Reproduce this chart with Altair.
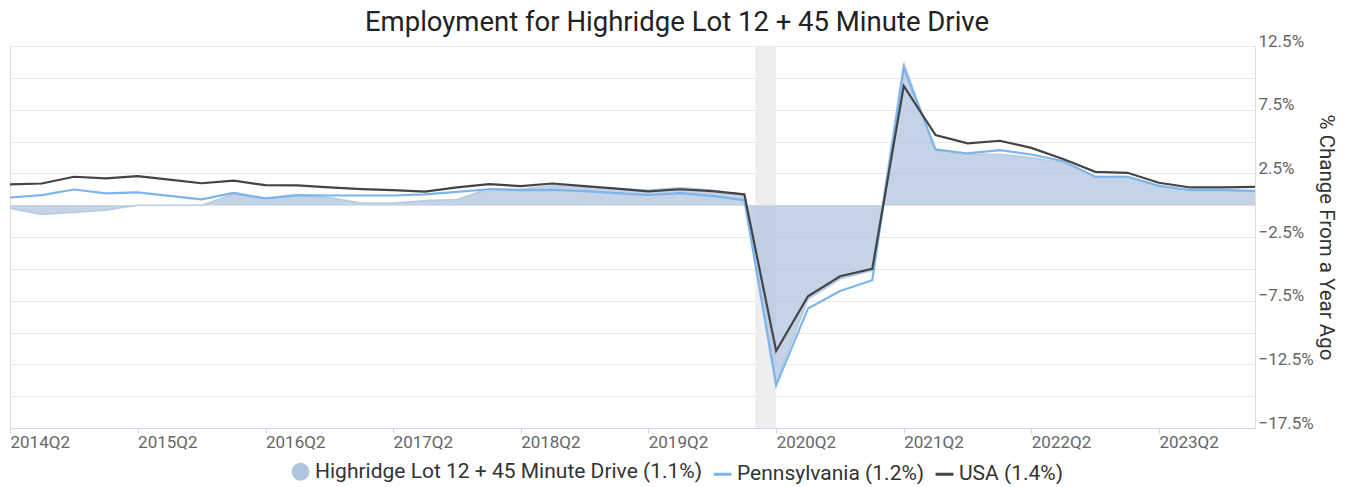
import altair as alt
import pandas as pd

quarters = [
    "2014Q2", "2014Q3", "2014Q4", "2015Q1", "2015Q2", "2015Q3", "2015Q4", "2016Q1",
    "2016Q2", "2016Q3", "2016Q4", "2017Q1", "2017Q2", "2017Q3", "2017Q4", "2018Q1",
    "2018Q2", "2018Q3", "2018Q4", "2019Q1", "2019Q2", "2019Q3", "2019Q4", "2020Q1",
    "2020Q2", "2020Q3", "2020Q4", "2021Q1", "2021Q2", "2021Q3", "2021Q4", "2022Q1",
    "2022Q2", "2022Q3", "2022Q4", "2023Q1", "2023Q2", "2023Q3", "2023Q4", "2024Q1",
]

highridge = [
    -0.26, -0.73, -0.57, -0.39, 0.0, 0.0, 0.0, 0.88, 0.52, 0.75,
    0.60, 0.18, 0.18, 0.36, 0.45, 1.30, 1.26, 1.55, 1.45, 1.30,
    1.20, 1.39, 1.20, 0.75, -13.9, -7.4, -5.8, -5.15, 11.2, 4.30,
    4.00, 4.00, 3.75, 3.33, 2.26, 2.26, 1.57, 1.20, 1.20, 1.10,
]

pennsylvania = [
    0.60, 0.79, 1.23, 0.92, 1.00, 0.73, 0.46, 0.96, 0.53, 0.79,
    0.76, 0.76, 0.76, 0.85, 1.05, 1.25, 1.18, 1.20, 1.10, 0.95,
    0.80, 0.95, 0.73, 0.40, -14.15, -8.12, -6.74, -5.90, 10.8, 4.38,
    4.06, 4.32, 3.98, 3.46, 2.23, 2.23, 1.52, 1.18, 1.18, 1.13,
]

usa = [
    1.63, 1.70, 2.23, 2.10, 2.28, 2.00, 1.72, 1.92, 1.57, 1.55,
    1.39, 1.26, 1.18, 1.06, 1.40, 1.65, 1.50, 1.70, 1.50, 1.30,
    1.08, 1.25, 1.10, 0.85, -11.45, -7.15, -5.58, -5.00, 9.36, 5.50,
    4.85, 5.06, 4.50, 3.62, 2.62, 2.54, 1.76, 1.39, 1.39, 1.44,
]

series_names = [
    "Highridge Lot 12 + 45 Minute Drive (1.1%)",
    "Pennsylvania (1.2%)",
    "USA (1.4%)",
]
fill_colors = ["#b0c4de", "transparent", "transparent"]
stroke_colors = ["transparent", "#7cb5ec", "#434348"]
legend_shapes = ["circle", "stroke", "stroke"]

y_ticks = [-17.5, -15, -12.5, -10, -7.5, -5, -2.5, 0, 2.5, 5, 7.5, 10, 12.5]
x_tick_years = [2014, 2015, 2016, 2017, 2018, 2019, 2020, 2021, 2022, 2023]

recession_start = ["2020-02-01T00:00:00"]
recession_end = ["2020-04-01T00:00:00"]

title_text = "Employment for Highridge Lot 12 + 45 Minute Drive"
y_title = "% Change From a Year Ago"


def qdate(q):
    y = int(q[:4])
    n = int(q[-1])
    return f"{y}-{(n - 1) * 3 + 1:02d}-01T00:00:00"


rows = []
for name, vals in zip(series_names, [highridge, pennsylvania, usa]):
    for q, v in zip(quarters, vals):
        rows.append({"date": qdate(q), "series": name, "value": v})
df = pd.DataFrame(rows)

rec_df = pd.DataFrame({"start": recession_start, "end": recession_end})
title_df = pd.DataFrame({"t": [title_text]})

W, H = 1245, 382

x_scale = alt.Scale(
    domain=[alt.DateTime(year=2014, month=4, date=1), alt.DateTime(year=2024, month=1, date=1)],
    nice=False,
)
y_scale = alt.Scale(domain=[-17.5, 12.5], nice=False, zero=False)

x_axis = alt.Axis(
    values=[alt.DateTime(year=y, month=4, date=1) for y in x_tick_years],
    labelExpr="timeFormat(datum.value, '%Y') + 'Q2'",
    labelAlign="left",
    labelBaseline="top",
    labelPadding=1,
    labelFontSize=17,
    labelColor="#666666",
    labelFont="Roboto",
    tickSize=5,
    tickColor="#ccd6eb",
    domainColor="#ccd6eb",
    grid=False,
    title=None,
    labelOverlap=False,
)

y_axis = alt.Axis(
    orient="right",
    values=y_ticks,
    labelExpr="abs((datum.value - 2.5) % 5) < 0.01 ? format(datum.value, '.1f') + '%' : ''",
    labelBaseline="alphabetic",
    labelAlign="left",
    labelPadding=3,
    labelFontSize=17,
    labelColor="#666666",
    labelFont="Roboto",
    ticks=False,
    domain=False,
    grid=True,
    gridColor="#e6e6e6",
    title=y_title,
    titleAngle=90,
    titleFontSize=20.5,
    titleFont="Roboto",
    titleFontWeight="normal",
    titleColor="#333333",
    titleX=70,
    titleY=H / 2,
    titleAlign="center",
    titleBaseline="middle",
    labelOverlap=False,
)

leg = alt.Legend(
    title=None,
    orient="none",
    legendX=280,
    legendY=415,
    direction="horizontal",
    symbolSize=320,
    symbolStrokeWidth=3,
    symbolOpacity=1,
    labelFontSize=21,
    labelFont="Roboto",
    labelColor="#333333",
    labelLimit=600,
    columnPadding=4,
    labelOffset=4,
)

fill_scale = alt.Scale(domain=series_names, range=fill_colors)
stroke_scale = alt.Scale(domain=series_names, range=stroke_colors)
shape_scale = alt.Scale(domain=series_names, range=legend_shapes)

band = alt.Chart(rec_df).mark_rect(color="#eeeeee").encode(
    x=alt.X("start:T", scale=x_scale, axis=x_axis),
    x2="end:T",
    y=alt.value(0),
    y2=alt.value(H),
)

base = alt.Chart(df).encode(
    x=alt.X("date:T", scale=x_scale, axis=x_axis),
    y=alt.Y("value:Q", scale=y_scale, axis=y_axis),
)

area = base.transform_filter(alt.datum.series == series_names[0]).mark_area(
    fillOpacity=0.75
).encode(
    fill=alt.Fill("series:N", scale=fill_scale, legend=leg),
)

area_line = base.transform_filter(alt.datum.series == series_names[0]).mark_line(
    strokeWidth=1.5, opacity=0.8
).encode(color=alt.value("#b0c4de"))

lines = base.transform_filter(alt.datum.series != series_names[0]).mark_line(
    strokeWidth=2.2
).encode(
    stroke=alt.Stroke("series:N", scale=stroke_scale, legend=leg),
    detail="series:N",
)

legend_layer = base.transform_filter("false").mark_point(filled=True).encode(
    fill=alt.Fill("series:N", scale=fill_scale, legend=leg),
    stroke=alt.Stroke("series:N", scale=stroke_scale, legend=leg),
    shape=alt.Shape("series:N", scale=shape_scale, legend=leg),
)

title = alt.Chart(title_df).mark_text(
    fontSize=27.5, font="Roboto", color="#222222", baseline="middle", align="center"
).encode(x=alt.value(667), y=alt.value(-23), text="t:N")

chart = alt.layer(band, area, area_line, lines, legend_layer, title).properties(
    width=W,
    height=H,
    autosize=alt.AutoSizeParams(type="none"),
    padding={"left": 2, "top": 38, "right": 87, "bottom": 56},
    background="white",
).configure_view(stroke="transparent").configure(font="Roboto")

chart.save("out.html", embed_options={"renderer": "svg", "actions": False})
